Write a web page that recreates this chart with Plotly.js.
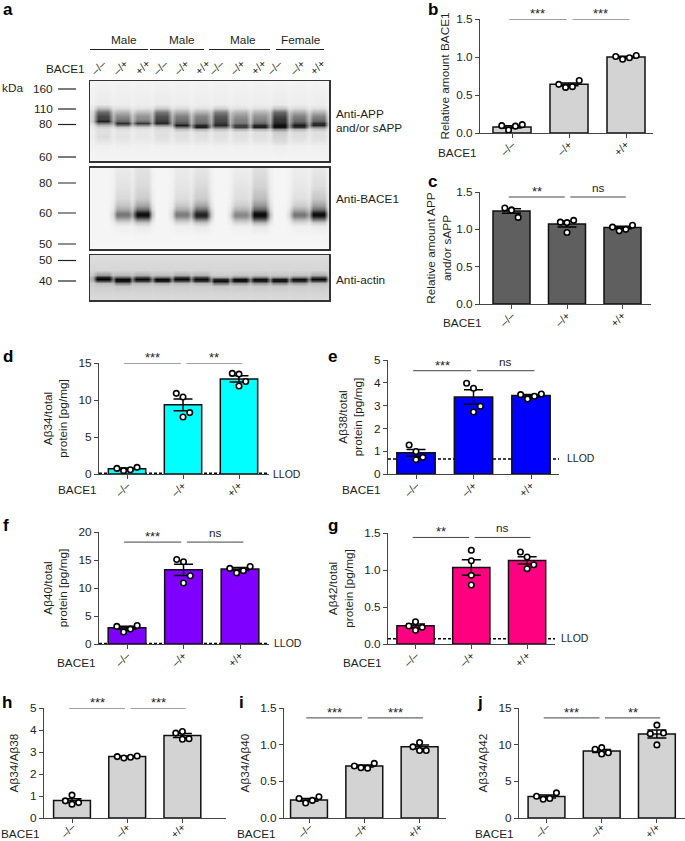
<!DOCTYPE html>
<html><head><meta charset="utf-8">
<script src="https://cdn.plot.ly/plotly-3.0.1.min.js"></script>
<style>html,body{margin:0;padding:0;background:#fff}#c{width:685px;height:841px}</style>
</head><body><div id="c"></div>
<script>
const genotypes=['–/–','–/+','+/+'];
const four=[-.18,-.06,.06,.18], three=[-.12,0,0,.12], one=[0,0,0,0];

const bMeans=[.08,.64,1.0], bSem=[.015,.018,.01];
const bPoints=[[.097,.04,.09,.11],[.64,.60,.61,.69],[1.007,.97,.99,1.02]];
const cMeans=[1.245,1.07,1.025], cSem=[.03,.04,.017];
const cPoints=[[1.285,1.26,1.255,1.16],[1.096,1.09,.957,1.12],[1.03,.98,1.0,1.055]];
const dMeans=[.7,9.35,12.85], dSem=[.1,.8,.42];
const dPoints=[[.76,.45,.58,.9],[10.9,10.4,7.7,8.3],[13.6,13.5,11.9,12.5]];
const eMeans=[.93,3.38,3.44], eSem=[.15,.32,.05];
const ePoints=[[1.27,.99,.63,.73],[3.98,3.76,2.72,2.97],[3.48,3.29,3.41,3.51]];
const fMeans=[2.9,13.25,13.4], fSem=[.27,1.0,.25];
const fPoints=[[3.14,2.13,2.66,3.31],[15.1,14.7,10.9,12.2],[13.5,12.7,13.1,13.85]];
const gMeans=[.245,1.035,1.13], gSem=[.025,.105,.05];
const gPoints=[[.243,.30,.185,.225],[1.266,1.126,.928,.797],[1.243,1.176,1.018,1.07]];
const hMeans=[.79,2.79,3.75], hSem=[.08,.02,.09];
const hPoints=[[.78,1.04,.63,.70],[2.79,2.73,2.76,2.82],[3.86,3.93,3.58,3.6]];
const iMeans=[.247,.709,.97], iSem=[.02,.015,.025];
const iPoints=[[.265,.205,.24,.29],[.71,.685,.68,.745],[.97,1.03,.92,.92]];
const jMeans=[2.93,9.14,11.45], jSem=[.2,.2,.55];
const jPoints=[[2.97,2.56,2.65,3.43],[9.37,9.6,8.73,8.9],[11.5,12.67,9.97,11.6]];

const llodD=.1,llodE=.66,llodF=.1,llodG=.07;

// Blot densitometry: darkness 0..1, rows top to bottom, 12 lanes.
const appRows=[81,104,108,112,116,119,121,123,125,127,129,132,136,141,146,161];
const appBg=[.04,.05,.05,.05,.05,.05,.05,.05,.05,.05,.05,.05,.05,.05,.05,.04];
const appLanes=[
[.05,.05,.05,.05,.05,.05,.05,.05,.05,.05,.05,.05],
[.08,.07,.07,.08,.07,.07,.07,.07,.07,.08,.07,.07],
[.25,.13,.11,.2,.14,.12,.18,.12,.12,.22,.14,.12],
[.58,.3,.27,.53,.33,.3,.5,.3,.3,.58,.33,.3],
[.72,.45,.42,.68,.5,.48,.65,.42,.42,.72,.5,.48],
[.75,.52,.46,.72,.55,.52,.7,.48,.48,.78,.56,.55],
[.88,.6,.55,.78,.6,.55,.72,.5,.52,.8,.6,.62],
[.55,.82,.78,.85,.68,.6,.78,.55,.6,.85,.72,.82],
[.3,.55,.45,.45,.9,.85,.85,.75,.85,.95,.9,.85],
[.18,.22,.18,.2,.55,.88,.55,.75,.88,.92,.8,.45],
[.13,.13,.11,.14,.25,.3,.25,.3,.3,.45,.3,.22],
[.12,.1,.09,.12,.12,.13,.12,.12,.12,.2,.14,.12],
[.14,.11,.1,.12,.12,.12,.12,.12,.12,.17,.13,.12],
[.1,.09,.08,.1,.1,.1,.1,.1,.1,.14,.1,.1],
[.06,.06,.06,.06,.06,.06,.06,.06,.06,.07,.06,.06],
[.04,.04,.04,.04,.04,.04,.04,.04,.04,.04,.04,.04]];
const baceRows=[168,185,198,205,209,212,214,216,219,222,226,235,249];
const baceBg=[.04,.04,.04,.04,.04,.04,.04,.04,.04,.04,.04,.04,.03];
const baceLanes=[
[.04,.08,.11,.04,.08,.1,.04,.07,.12,.04,.07,.09],
[.04,.11,.14,.04,.1,.14,.04,.1,.17,.04,.09,.13],
[.04,.15,.2,.04,.13,.2,.04,.13,.26,.04,.12,.22],
[.04,.24,.36,.04,.22,.36,.04,.2,.42,.04,.2,.38],
[.04,.34,.58,.04,.33,.58,.04,.3,.62,.04,.33,.58],
[.04,.5,.88,.04,.48,.8,.04,.42,.9,.04,.48,.88],
[.04,.55,.97,.04,.52,.88,.04,.48,.97,.04,.55,.97],
[.04,.48,.85,.04,.46,.82,.04,.44,.9,.04,.48,.85],
[.04,.3,.5,.04,.28,.5,.04,.28,.6,.04,.28,.5],
[.04,.14,.22,.04,.14,.22,.04,.15,.28,.04,.14,.2],
[.04,.06,.08,.04,.06,.08,.04,.06,.09,.04,.06,.07],
[.04,.04,.04,.04,.04,.04,.04,.04,.04,.04,.04,.04],
[.03,.03,.03,.03,.03,.03,.03,.03,.03,.03,.03,.03]];
const actinRows=[255,270,275,277,279,281,283,286,292,300];
const actinBg=[.13,.16,.18,.18,.18,.18,.18,.18,.16,.14];
const actinLanes=[
[.13,.13,.13,.13,.13,.13,.13,.13,.13,.13,.13,.13],
[.16,.16,.16,.16,.16,.16,.16,.16,.16,.16,.16,.16],
[.4,.28,.32,.26,.32,.3,.2,.23,.24,.22,.24,.32],
[.85,.6,.7,.55,.75,.7,.35,.45,.5,.4,.5,.7],
[1,.97,.97,.97,.97,.95,.85,.95,.95,.9,.95,.97],
[.7,.92,.75,.88,.7,.8,.95,.92,.88,.92,.82,.7],
[.27,.5,.3,.33,.28,.3,.55,.42,.42,.48,.38,.27],
[.2,.22,.2,.2,.2,.2,.22,.21,.21,.21,.2,.2],
[.17,.17,.17,.17,.17,.17,.17,.17,.17,.17,.17,.17],
[.14,.14,.14,.14,.14,.14,.14,.14,.14,.14,.14,.14]];

const laneGenotypes=['–/–','–/+','+/+','–/–','–/+','+/+','–/–','–/+','+/+','–/–','–/+','+/+'];
const cohortNames=['Male','Male','Male','Female'];
const appLadder=[['160',89],['110',109],['80',124.5],['60',157]];
const baceLadder=[['80',183],['60',213],['50',244]];
const actinLadder=[['50',260.5],['40',281]];

const W=685,H=841,FONT='"Liberation Sans",Arial,sans-serif',INK='#231f20',FS=11.8;
const PX=p=>p/W, PY=p=>1-p/H;
const data=[],shapes=[],annotations=[],layout={};

function note(text,x,y,opt={}){annotations.push(Object.assign({text,xref:'paper',yref:'paper',x:PX(x),y:PY(y),showarrow:false,xanchor:'left',yanchor:'middle',borderpad:0,font:{family:FONT,size:FS,color:INK}},opt));}

// blots
const LANE0=103,LANESP=19.6,SPILL=.22;
function blot(n,rows,bg,lanes,halfW,top,bottom,ladder){
  const xg=[-.9],z=rows.map((_,ri)=>[bg[ri]]);
  for(let i=0;i<12;i++){
    xg.push(i-.5,i-halfW,i+halfW);
    z.forEach((r,ri)=>{
      const left=i>0?lanes[ri][i-1]:bg[ri], here=lanes[ri][i];
      r.push(bg[ri]+SPILL*(left+here-2*bg[ri]),here,here);
    });
  }
  xg.push(11.5,11.9);
  z.forEach((r,ri)=>{r.push(bg[ri]+SPILL*(lanes[ri][11]-bg[ri]),bg[ri]);});
  data.push({type:'heatmap',x:xg,y:rows,z,xaxis:'x'+n,yaxis:'y'+n,zmin:0,zmax:1,zsmooth:'best',showscale:false,hoverinfo:'skip',
    colorscale:[[0,'#ffffff'],[1,'#000000']]});
  const L=90,R=329;
  layout['xaxis'+n]={domain:[PX(L),PX(R)],range:[(L-LANE0)/LANESP,(R-LANE0)/LANESP],anchor:'y'+n,showticklabels:false,ticks:'',showgrid:false,zeroline:false,showline:true,mirror:true,linecolor:'#333',linewidth:1.5};
  layout['yaxis'+n]={domain:[PY(bottom),PY(top)],range:[bottom,top],anchor:'x'+n,showticklabels:false,ticks:'',showgrid:false,zeroline:false,showline:true,mirror:true,linecolor:'#333',linewidth:1.5};
  ladder.forEach(([lab,y])=>{
    shapes.push({type:'line',xref:'paper',yref:'y'+n,x0:PX(58),x1:PX(76),y0:y,y1:y,line:{color:'#222',width:1.2}});
    note(lab,54,y,{xanchor:'right'});
  });
}
blot(1,appRows,appBg,appLanes,.28,81,161,appLadder);
blot(2,baceRows,baceBg,baceLanes,.28,167.5,249,baceLadder);
blot(3,actinRows,actinBg,actinLanes,.32,255,300,actinLadder);

[[90,148,123.5],[150,204,181.5],[209,270,242.5],[276,324,301]].forEach(([a,b,c],i)=>{
  shapes.push({type:'line',xref:'paper',yref:'paper',x0:PX(a),x1:PX(b),y0:PY(49.5),y1:PY(49.5),line:{color:'#222',width:1.1}});
  note(cohortNames[i],c,40,{xanchor:'center'});
});
note('BACE1',45,68.5);
note('kDa',1,88);
[99,121,143,161,182,203,217,238,259,275,298,318].forEach((x,i)=>note(laneGenotypes[i],x,67.5,{xanchor:'center',textangle:-45,font:{family:FONT,size:11,color:INK}}));
note('Anti-APP',335,114);note('and/or sAPP',335,128);note('Anti-BACE1',335,199);note('Anti-actin',335,280);

// bar panels
function panel(p){
  const n=p.n,xa='xaxis'+n,ya='yaxis'+n;
  const low=p.B>800;
  layout[xa]={domain:[PX(p.L),PX(p.R)],range:[(p.L-p.c0)/p.sp,(p.R-p.c0)/p.sp],anchor:'y'+n,tickmode:'array',tickvals:[0,1,2],ticktext:genotypes,tickangle:-45,ticks:'outside',ticklen:4,tickwidth:1,tickcolor:'#444',ticklabelstandoff:low?-6:-4,showgrid:false,zeroline:false,showline:true,linecolor:'#444',linewidth:1,tickfont:{family:FONT,size:low?10.5:11,color:INK}};
  layout[ya]={domain:[PY(p.B),PY(p.T)],range:[0,p.ymax],anchor:'x'+n,tickmode:'array',tickvals:p.ticks,tickformat:p.fmt,ticks:'outside',ticklen:4,tickwidth:1,tickcolor:'#444',showgrid:false,zeroline:false,showline:true,linecolor:'#444',linewidth:1,tickfont:{family:FONT,size:FS,color:INK},
    title:{text:p.title,font:{family:FONT,size:FS,color:INK},standoff:p.standoff}};
  data.push({type:'bar',x:[0,1,2],y:p.means,width:.667,xaxis:'x'+n,yaxis:'y'+n,marker:{color:p.color,line:{color:'#111',width:1.5}},
    error_y:{type:'data',array:p.sem,visible:true,color:'#000',thickness:1.5,width:9.5},hoverinfo:'skip',showlegend:false});
  p.points.forEach((vals,g)=>{
    data.push({type:'scatter',mode:'markers',x:vals.map((_,i)=>g+p.jit[g][i]),y:vals,xaxis:'x'+n,yaxis:'y'+n,cliponaxis:false,
      marker:{size:5.5,color:'#fff',line:{color:'#000',width:1.6}},hoverinfo:'skip',showlegend:false});
  });
  [[-.05,.96,.455,p.sig[0]],[1.06,2.06,1.56,p.sig[1]]].forEach(([a,b,c,t])=>{
    shapes.push({type:'line',xref:'x'+n,yref:'y'+n,x0:a,x1:b,y0:p.sigY,y1:p.sigY,line:{color:'#444',width:1}});
    const isNs=t==='ns';
    annotations.push({text:t,xref:'x'+n,yref:'y'+n,x:c,y:p.sigY,showarrow:false,xanchor:'center',yanchor:'bottom',borderpad:0,yshift:isNs?1:-3,font:{family:FONT,size:isNs?FS:13,color:INK}});
  });
  if(p.llod!==undefined){
    shapes.push({type:'line',layer:'below',xref:'x'+n,yref:'y'+n,x0:(p.L-p.c0)/p.sp,x1:(p.R+1-p.c0)/p.sp,y0:p.llod,y1:p.llod,line:{color:'#000',width:1.4,dash:'3px,2px'}});
    note('LLOD',p.llodX,p.llodY,{font:{family:FONT,size:10.5,color:INK}});
  }
  note('BACE1',p.bx,p.by);
  note(p.letter,p.lx,p.ly,{font:{family:FONT,size:17,color:'#000',weight:700}});
}
const panels=[
 {n:4,letter:'b',lx:427,ly:10,L:480,R:653,T:19,B:133,c0:512,sp:57,ymax:1.5,ticks:[0,.5,1,1.5],fmt:'.1f',color:'#d3d3d3',means:bMeans,sem:bSem,points:bPoints,jit:[four,four,four],sigY:1.5,sig:['***','***'],title:'Relative amount BACE1',standoff:4,bx:437,by:153},
 {n:5,letter:'c',lx:427,ly:182,L:480,R:651,T:192,B:304,c0:511.5,sp:55.5,ymax:1.5,ticks:[0,.5,1,1.5],fmt:'.1f',color:'#5f5f5f',means:cMeans,sem:cSem,points:cPoints,jit:[three,three,four],sigY:1.433,sig:['**','ns'],title:'Relative amount APP<br>and/or sAPP',standoff:2,bx:442,by:323},
 {n:6,letter:'d',lx:2,ly:356,L:99,R:269,T:363,B:474,c0:127,sp:56,ymax:15,ticks:[0,5,10,15],fmt:'d',color:'#00ffff',means:dMeans,sem:dSem,points:dPoints,jit:[four,three,three],sigY:15,sig:['***','**'],title:'Aβ34/total<br>protein [pg/mg]',standoff:8,bx:57,by:490,llod:llodD,llodX:272,llodY:474},
 {n:7,letter:'e',lx:327,ly:356,L:388,R:559,T:360,B:474,c0:416,sp:57.5,ymax:5,ticks:[0,1,2,3,4,5],fmt:'d',color:'#0000ff',means:eMeans,sem:eSem,points:ePoints,jit:[three,three,four],sigY:4.53,sig:['***','ns'],title:'Aβ38/total<br>protein [pg/mg]',standoff:8,bx:341,by:490,llod:llodE,llodX:566,llodY:458},
 {n:8,letter:'f',lx:2,ly:525,L:99,R:269,T:532,B:644,c0:127,sp:56.5,ymax:20,ticks:[0,5,10,15,20],fmt:'d',color:'#7f00ff',means:fMeans,sem:fSem,points:fPoints,jit:[four,three,four],sigY:18.2,sig:['***','ns'],title:'Aβ40/total<br>protein [pg/mg]',standoff:8,bx:56,by:663,llod:llodF,llodX:273,llodY:643},
 {n:9,letter:'g',lx:327,ly:525,L:388,R:555,T:533,B:644,c0:415.5,sp:55.8,ymax:1.5,ticks:[0,.5,1,1.5],fmt:'.1f',color:'#ff0080',means:gMeans,sem:gSem,points:gPoints,jit:[three,one,three],sigY:1.44,sig:['**','ns'],title:'Aβ42/total<br>protein [pg/mg]',standoff:8,bx:342,by:663,llod:llodG,llodX:560,llodY:638},
 {n:10,letter:'h',lx:1,ly:702,L:44,R:226,T:708,B:818,c0:72,sp:55.2,ymax:5,ticks:[0,1,2,3,4,5],fmt:'d',color:'#d3d3d3',means:hMeans,sem:hSem,points:hPoints,jit:[three,four,three],sigY:5,sig:['***','***'],title:'Aβ34/Aβ38',standoff:8,bx:0,by:834},
 {n:11,letter:'i',lx:238,ly:702,L:284,R:446,T:708,B:818,c0:309,sp:55.3,ymax:1.5,ticks:[0,.5,1,1.5],fmt:'.1f',color:'#d3d3d3',means:iMeans,sem:iSem,points:iPoints,jit:[four,four,three],sigY:1.365,sig:['***','***'],title:'Aβ34/Aβ40',standoff:8,bx:236,by:834},
 {n:12,letter:'j',lx:476,ly:702,L:519,R:685,T:708,B:818,c0:546.5,sp:55.2,ymax:15,ticks:[0,5,10,15],fmt:'d',color:'#d3d3d3',means:jMeans,sem:jSem,points:jPoints,jit:[four,three,three],sigY:13.65,sig:['***','**'],title:'Aβ34/Aβ42',standoff:8,bx:474,by:834}
];
panels.forEach(panel);
note('a',2,10,{font:{family:FONT,size:17,color:'#000',weight:700}});

Object.assign(layout,{width:W,height:H,margin:{l:0,r:0,t:0,b:0},paper_bgcolor:'#fff',plot_bgcolor:'rgba(0,0,0,0)',showlegend:false,shapes,annotations,font:{family:FONT,color:INK}});
Plotly.newPlot('c',data,layout,{displayModeBar:false,staticPlot:true});
</script></body></html>
